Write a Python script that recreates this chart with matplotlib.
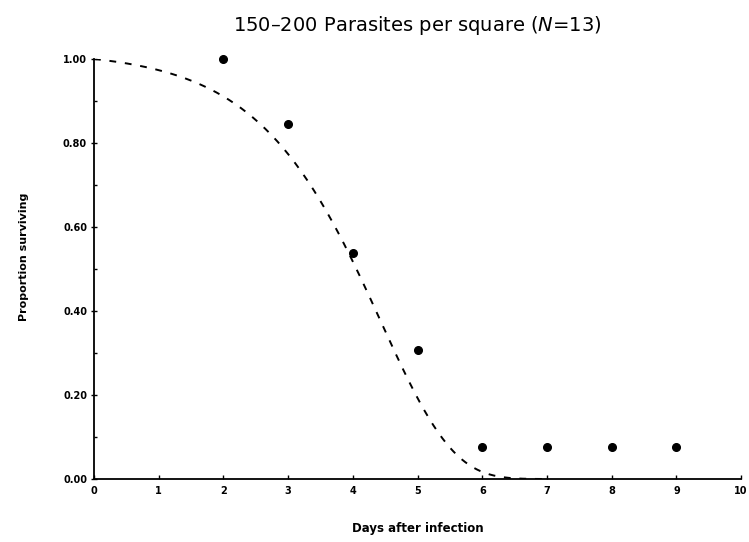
import numpy as np
import matplotlib
matplotlib.use('Agg')
import matplotlib.pyplot as plt
from matplotlib.ticker import MultipleLocator

# Наблюдаемая доля выживших (N = 13)
days = [2, 3, 4, 5, 6, 7, 8, 9]
surviving = [13 / 13, 11 / 13, 7 / 13, 4 / 13, 1 / 13, 1 / 13, 1 / 13, 1 / 13]

# Параметры подогнанной кривой Гомпертца: S(t) = exp(-(a/b)(e^(bt) - 1))
gompertz_a = 0.01665
gompertz_b = 0.9
curve_end = 7.0

x_ticks = list(range(0, 11))
y_ticks = [0.0, 0.2, 0.4, 0.6, 0.8, 1.0]

fig = plt.figure(figsize=(7.49, 5.42), dpi=100)
ax = fig.add_axes([0.1255, 0.1162, 0.864, 0.775])

# Кривая модели
t = np.linspace(0, curve_end, 300)
s = np.exp(-(gompertz_a / gompertz_b) * (np.exp(gompertz_b * t) - 1))
ax.plot(t, s, color='black', lw=1.4, dashes=(3.5, 4.5))

# Точки наблюдений
ax.plot(days, surviving, 'o', color='black', markersize=5.5, clip_on=False)

ax.set_xlim(0, 10)
ax.set_ylim(0, 1)
ax.set_xticks(x_ticks)
ax.set_yticks(y_ticks)
ax.set_xticklabels([str(v) for v in x_ticks], fontsize=7, fontweight='bold')
ax.set_yticklabels(['%.2f' % v for v in y_ticks], fontsize=7, fontweight='bold')
ax.yaxis.set_minor_locator(MultipleLocator(0.1))

for side in ['top', 'right']:
    ax.spines[side].set_visible(False)
for side in ['left', 'bottom']:
    ax.spines[side].set_linewidth(1.3)

ax.tick_params(axis='x', direction='in', length=3, width=1, pad=5)
ax.tick_params(axis='y', which='major', direction='inout', length=4, width=1, pad=3)
ax.tick_params(axis='y', which='minor', direction='in', length=2, width=1)

ax.set_xlabel('Days after infection', fontsize=8.5, fontweight='bold', labelpad=19)
ax.set_ylabel('Proportion surviving', fontsize=8, fontweight='bold', labelpad=20)
ax.yaxis.set_label_coords(-0.1, 0.53)
ax.set_title('150\u2013200 Parasites per square ($\\it{N}$=13)', fontsize=14, pad=20)

fig.savefig('out.png', dpi=100)
